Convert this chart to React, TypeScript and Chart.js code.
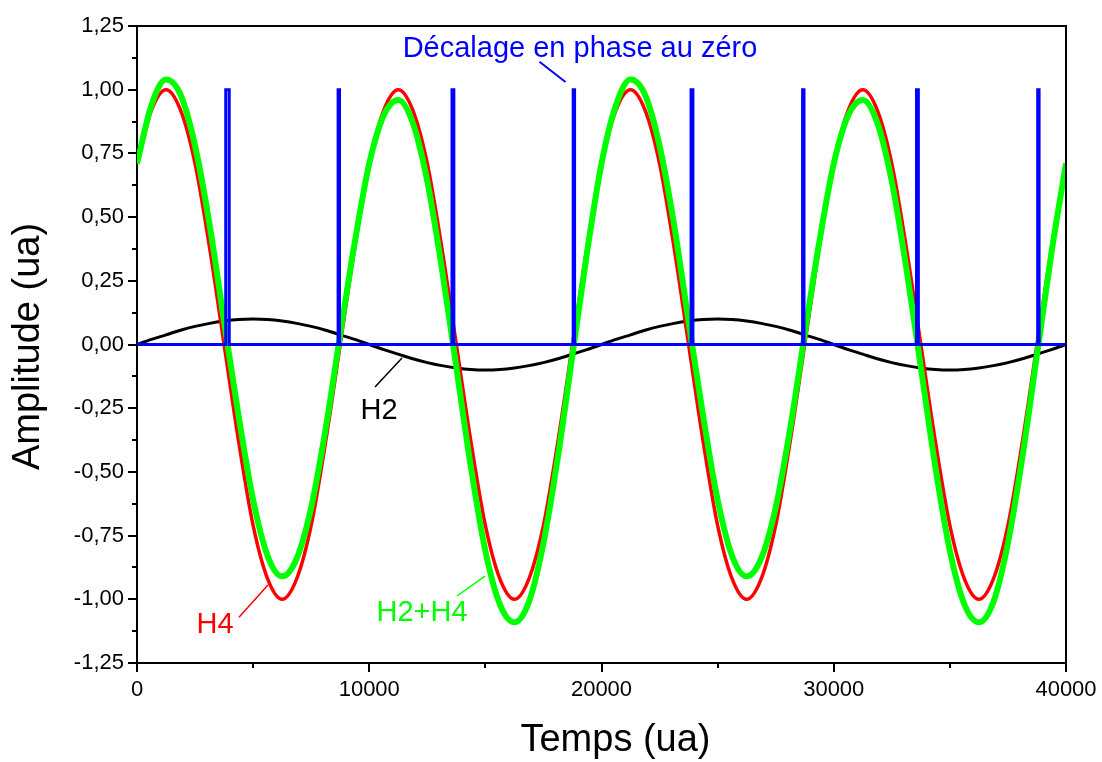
import React, { useEffect, useRef } from "react";
import { Chart, registerables } from "chart.js";

Chart.register(...registerables);

// Sampling grid (Temps, ua)
const temps = [
  0, 625, 1250, 1875, 2500, 3125, 3750, 4375, 5000, 5625, 6250, 6875, 7500, 8125, 8750, 9375,
  10000, 10625, 11250, 11875, 12500, 13125, 13750, 14375, 15000, 15625, 16250, 16875, 17500, 18125, 18750, 19375,
  20000, 20625, 21250, 21875, 22500, 23125, 23750, 24375, 25000, 25625, 26250, 26875, 27500, 28125, 28750, 29375,
  30000, 30625, 31250, 31875, 32500, 33125, 33750, 34375, 35000, 35625, 36250, 36875, 37500, 38125, 38750, 39375,
  40000,
];

// H2 (black)
const h2 = [
  0, 0.02, 0.038, 0.056, 0.071, 0.083, 0.092, 0.098, 0.1, 0.098, 0.092, 0.083, 0.071, 0.056, 0.038, 0.02,
  0, -0.02, -0.038, -0.056, -0.071, -0.083, -0.092, -0.098, -0.1, -0.098, -0.092, -0.083, -0.071, -0.056, -0.038, -0.02,
  0, 0.02, 0.038, 0.056, 0.071, 0.083, 0.092, 0.098, 0.1, 0.098, 0.092, 0.083, 0.071, 0.056, 0.038, 0.02,
  0, -0.02, -0.038, -0.056, -0.071, -0.083, -0.092, -0.098, -0.1, -0.098, -0.092, -0.083, -0.071, -0.056, -0.038, -0.02,
  0,
];

// H4 (red)
const h4 = [
  0.71, 0.92, 1.0, 0.92, 0.71, 0.38, 0, -0.38, -0.71, -0.92, -1.0, -0.92, -0.71, -0.38, 0, 0.38,
  0.71, 0.92, 1.0, 0.92, 0.71, 0.38, 0, -0.38, -0.71, -0.92, -1.0, -0.92, -0.71, -0.38, 0, 0.38,
  0.71, 0.92, 1.0, 0.92, 0.71, 0.38, 0, -0.38, -0.71, -0.92, -1.0, -0.92, -0.71, -0.38, 0, 0.38,
  0.71, 0.92, 1.0, 0.92, 0.71, 0.38, 0, -0.38, -0.71, -0.92, -1.0, -0.92, -0.71, -0.38, 0, 0.38,
  0.71,
];

// H2+H4 (green)
const h2h4 = [
  0.71, 0.94, 1.04, 0.98, 0.78, 0.47, 0.09, -0.28, -0.61, -0.83, -0.91, -0.84, -0.64, -0.33, 0.04, 0.4,
  0.71, 0.9, 0.96, 0.87, 0.64, 0.3, -0.09, -0.48, -0.81, -1.02, -1.09, -1.01, -0.78, -0.44, -0.04, 0.36,
  0.71, 0.94, 1.04, 0.98, 0.78, 0.47, 0.09, -0.28, -0.61, -0.83, -0.91, -0.84, -0.64, -0.33, 0.04, 0.4,
  0.71, 0.9, 0.96, 0.87, 0.64, 0.3, -0.09, -0.48, -0.81, -1.02, -1.09, -1.01, -0.78, -0.44, -0.04, 0.36,
  0.71,
];

// Phase-shift pulses (blue) at the zero crossings of H2+H4
const zeroCrossings = [3896, 8689, 13603, 18811, 23896, 28689, 33603, 38811];
const pulseWidths = [150, 60, 80, 60, 80, 60, 80, 60];
const pulseHeight = 1.0;

const xTicks = [0, 10000, 20000, 30000, 40000];
const yTicks = [-1.25, -1.0, -0.75, -0.5, -0.25, 0, 0.25, 0.5, 0.75, 1.0, 1.25];

const xTitle = "Temps (ua)";
const yTitle = "Amplitude (ua)";

const FONT = "'Liberation Sans', Arial, Helvetica, sans-serif";

function fmtY(v: number): string {
  const n = Math.abs(v) < 1e-9 ? 0 : v;
  return n.toFixed(2).replace(".", ",");
}

export default function App() {
  const canvasRef = useRef<HTMLCanvasElement | null>(null);

  useEffect(() => {
    document.body.style.margin = "0";
    const canvas = canvasRef.current;
    if (!canvas) return;

    const series = (ys: number[]) => temps.map((t, i) => ({ x: t, y: ys[i] }));

    const blue: { x: number; y: number }[] = [{ x: temps[0], y: 0 }];
    zeroCrossings.forEach((c, i) => {
      const w = pulseWidths[i] / 2;
      blue.push({ x: c - w, y: 0 });
      blue.push({ x: c - w, y: pulseHeight });
      blue.push({ x: c + w, y: pulseHeight });
      blue.push({ x: c + w, y: 0 });
    });
    blue.push({ x: temps[temps.length - 1], y: 0 });

    const decorPlugin = {
      id: "decor",
      afterDraw(chart: any) {
        const { ctx, chartArea } = chart;
        const xs = chart.scales.x;
        const ys = chart.scales.y;
        const px = (v: number) => xs.getPixelForValue(v);
        const py = (v: number) => ys.getPixelForValue(v);
        ctx.save();
        // frame (top & right)
        ctx.strokeStyle = "#000";
        ctx.lineWidth = 2;
        ctx.beginPath();
        ctx.moveTo(chartArea.left, chartArea.top);
        ctx.lineTo(chartArea.right, chartArea.top);
        ctx.lineTo(chartArea.right, chartArea.bottom);
        ctx.stroke();
        // minor ticks
        ctx.beginPath();
        for (let i = 0; i < xTicks.length - 1; i++) {
          const m = (xTicks[i] + xTicks[i + 1]) / 2;
          const x = Math.round(px(m));
          ctx.moveTo(x, chartArea.bottom);
          ctx.lineTo(x, chartArea.bottom + 5);
        }
        for (let i = 0; i < yTicks.length - 1; i++) {
          const m = (yTicks[i] + yTicks[i + 1]) / 2;
          const y = Math.round(py(m));
          ctx.moveTo(chartArea.left, y);
          ctx.lineTo(chartArea.left - 5, y);
        }
        ctx.stroke();

        // axis titles
        ctx.fillStyle = "#000";
        ctx.font = `38px ${FONT}`;
        ctx.textAlign = "center";
        ctx.textBaseline = "middle";
        ctx.fillText(xTitle, (chartArea.left + chartArea.right) / 2 + 14, 741);
        ctx.save();
        ctx.translate(29, (chartArea.top + chartArea.bottom) / 2 + 2);
        ctx.rotate(-Math.PI / 2);
        ctx.fillText(yTitle, 0, 0);
        ctx.restore();

        // annotations
        const label = (text: string, color: string, x: number, y: number, size: number) => {
          ctx.fillStyle = color;
          ctx.font = `${size}px ${FONT}`;
          ctx.textAlign = "center";
          ctx.textBaseline = "middle";
          ctx.fillText(text, px(x), py(y));
        };
        const leader = (color: string, x1: number, y1: number, x2: number, y2: number, w: number) => {
          ctx.strokeStyle = color;
          ctx.lineWidth = w;
          ctx.beginPath();
          ctx.moveTo(px(x1), py(y1));
          ctx.lineTo(px(x2), py(y2));
          ctx.stroke();
        };
        label("Décalage en phase au zéro", "#0000ff", 19074, 1.16, 29);
        leader("#0000ff", 17330, 1.11, 18450, 1.03, 2);
        label("H2", "#000000", 10420, -0.262, 29);
        leader("#000000", 10248, -0.167, 11410, -0.053, 1.5);
        label("H4", "#ff0000", 3358, -1.1, 29);
        leader("#ff0000", 4392, -1.07, 5640, -0.944, 1.5);
        label("H2+H4", "#00ff00", 12271, -1.054, 29);
        leader("#00ff00", 13778, -0.987, 14984, -0.909, 1.5);
        ctx.restore();
      },
    };

    const chart = new Chart(canvas, {
      type: "line",
      data: {
        datasets: [
          {
            label: "Décalage",
            data: blue,
            borderColor: "#0000ff",
            borderWidth: 3,
            pointRadius: 0,
            tension: 0,
            order: 1,
          },
          {
            label: "H2+H4",
            data: series(h2h4),
            borderColor: "#00ff00",
            borderWidth: 6,
            pointRadius: 0,
            cubicInterpolationMode: "monotone",
            order: 2,
          },
          {
            label: "H4",
            data: series(h4),
            borderColor: "#ff0000",
            borderWidth: 3.5,
            pointRadius: 0,
            cubicInterpolationMode: "monotone",
            order: 3,
          },
          {
            label: "H2",
            data: series(h2),
            borderColor: "#000000",
            borderWidth: 3,
            pointRadius: 0,
            cubicInterpolationMode: "monotone",
            order: 4,
          },
        ],
      },
      options: {
        animation: false,
        responsive: false,
        devicePixelRatio: 1,
        layout: { padding: { left: 0, top: 26, right: 36, bottom: 0 } },
        plugins: {
          legend: { display: false },
          tooltip: { enabled: false },
        },
        scales: {
          x: {
            type: "linear",
            min: 0,
            max: 40000,
            afterBuildTicks: (s: any) => {
              s.ticks = xTicks.map((v) => ({ value: v }));
            },
            ticks: {
              autoSkip: false,
              maxRotation: 0,
              color: "#000",
              font: { family: FONT, size: 22 },
              padding: 5,
              callback: (v: any) => String(v),
            },
            grid: {
              display: true,
              drawOnChartArea: false,
              drawTicks: true,
              tickLength: 9,
              tickColor: "#000",
              tickWidth: 2,
              color: "#000",
              lineWidth: 2,
            },
            border: { display: true, color: "#000", width: 2 },
            title: { display: false },
            afterFit: (s: any) => {
              s.height = 99;
            },
          },
          y: {
            type: "linear",
            min: -1.25,
            max: 1.25,
            afterBuildTicks: (s: any) => {
              s.ticks = yTicks.map((v) => ({ value: v }));
            },
            ticks: {
              autoSkip: false,
              color: "#000",
              font: { family: FONT, size: 22 },
              padding: 4,
              callback: (v: any) => fmtY(Number(v)),
            },
            grid: {
              display: true,
              drawOnChartArea: false,
              drawTicks: true,
              tickLength: 9,
              tickColor: "#000",
              tickWidth: 2,
              color: "#000",
              lineWidth: 2,
            },
            border: { display: true, color: "#000", width: 2 },
            title: { display: false },
            afterFit: (s: any) => {
              s.width = 137;
            },
          },
        },
      },
      plugins: [decorPlugin],
    } as any);

    return () => {
      chart.destroy();
    };
  }, []);

  return (
    <div style={{ width: 1102, height: 762, background: "#fff" }}>
      <canvas ref={canvasRef} width={1102} height={762} />
    </div>
  );
}
